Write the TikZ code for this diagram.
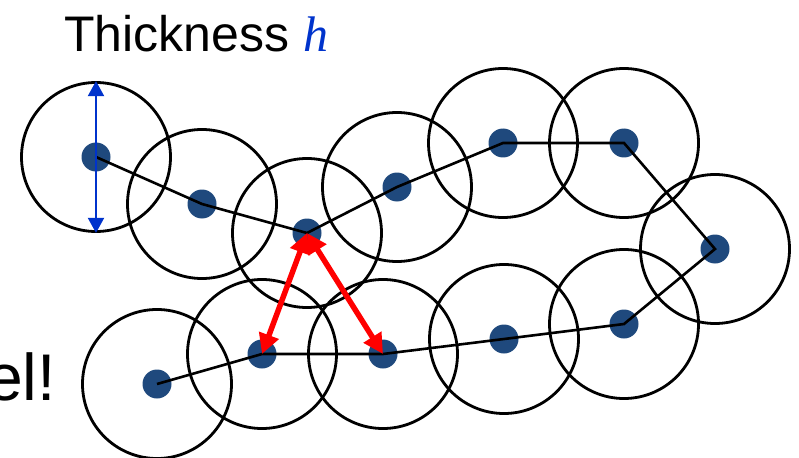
\documentclass[tikz,border=0pt]{standalone}
\usepackage{fontspec}
\setmainfont{Liberation Sans}
\newfontfamily\hfont{Liberation Serif}
\usetikzlibrary{arrows.meta}
\definecolor{beadblue}{RGB}{31,73,125}
\definecolor{hblue}{RGB}{0,51,204}
\begin{document}
\begin{tikzpicture}[
    x=1pt, y=-1pt,
    >={Triangle[length=20pt,width=20pt]},
    bead/.style={
        draw,
        circle,
        line width=2.8pt,
        minimum size=149pt,
        inner sep=0pt
    },
    dot/.style={
        circle,
        fill=beadblue,
        minimum size=29pt,
        inner sep=0pt
    },
    link/.style={line width=2.6pt, line join=miter},
    gap/.style={<->, red, line width=5.5pt},
    size/.style={{Triangle[length=15pt,width=16pt]}-{Triangle[length=15pt,width=16pt]},
        hblue, line width=2pt}
]
    \useasboundingbox (0,0) rectangle (799,457);

    % beads of the chain
    \node[dot] (p1) at (96,157) {};
    \node[dot] (p2) at (202,204) {};
    \node[dot] (p3) at (307,233) {};
    \node[dot] (p4) at (397,187) {};
    \node[dot] (p5) at (503,143) {};
    \node[dot] (p6) at (624,143) {};
    \node[dot] (p7) at (715,249) {};
    \node[dot] (p8) at (624,324) {};
    \node[dot] (p9) at (504,339) {};
    \node[dot] (p10) at (383,354) {};
    \node[dot] (p11) at (262,354) {};
    \node[dot] (p12) at (157,384) {};

    \node[bead] (c1) at (p1) {};
    \node[bead] (c2) at (p2) {};
    \node[bead] (c3) at (p3) {};
    \node[bead] (c4) at (p4) {};
    \node[bead] (c5) at (p5) {};
    \node[bead] (c6) at (p6) {};
    \node[bead] (c7) at (p7) {};
    \node[bead] (c8) at (p8) {};
    \node[bead] (c9) at (p9) {};
    \node[bead] (c10) at (p10) {};
    \node[bead] (c11) at (p11) {};
    \node[bead] (c12) at (p12) {};

    \draw[link] (p1.center) -- (p2.center) -- (p3.center) -- (p4.center)
        -- (p5.center) -- (p6.center) -- (p7.center) -- (p8.center)
        -- (p9.center) -- (p10.center) -- (p11.center) -- (p12.center);

    % contacts
    \draw[gap] (p3.center) -- (p11.center);
    \draw[gap] (p3.center) -- (p10.center);
    \draw[size] (c1.north) -- (c1.south);

    \node[anchor=base west, inner sep=0pt, font=\fontsize{50}{60}\selectfont] (title) at (64,52)
        {Thickness \textcolor{hblue}{\hfont\itshape h}};
    \node[anchor=base east, inner sep=0pt, font=\fontsize{66}{72}\selectfont] (hint) at (56,400)
        {el!};
\end{tikzpicture}
\end{document}
